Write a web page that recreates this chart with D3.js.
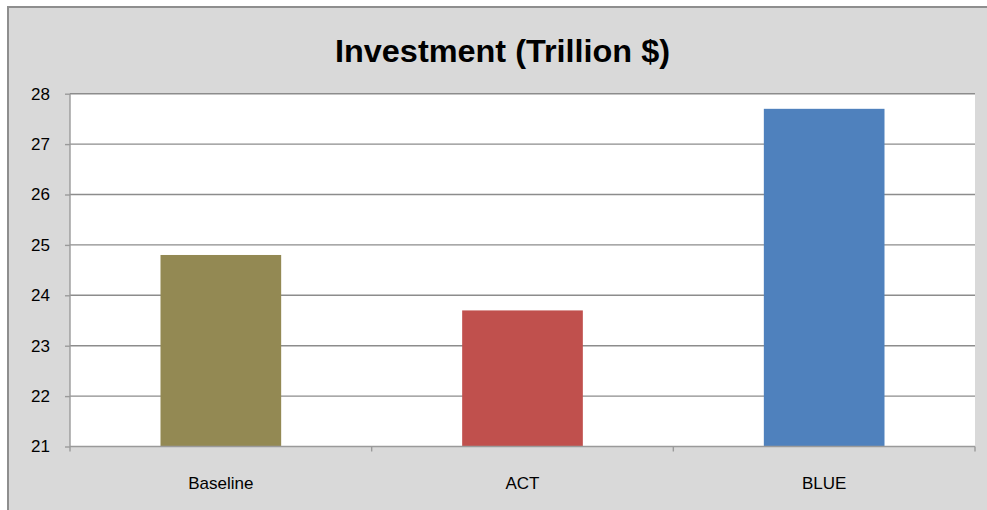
<!DOCTYPE html>
<html>
<head>
<meta charset="utf-8">
<script src="https://cdn.jsdelivr.net/npm/d3@7"></script>
<style>
  html, body { margin: 0; padding: 0; background: #ffffff; }
  svg { display: block; }
  text { font-family: "Liberation Sans", Arial, sans-serif; fill: #000; }
</style>
</head>
<body>
<svg id="chart" width="987" height="510"></svg>
<script>
// Chart data
const categories = ["Baseline", "ACT", "BLUE"];
const investment = [24.8, 23.7, 27.7];
const barColors = ["#938953", "#C0504D", "#4F81BD"];
const yTicks = [21, 22, 23, 24, 25, 26, 27, 28];
const titleText = "Investment (Trillion $)";

const W = 987, H = 510;
const plot = { left: 70, right: 975, top: 93.7, bottom: 446.5 };

const svg = d3.select("#chart");

// Chart frame
svg.append("rect")
  .attr("x", 8).attr("y", 7)
  .attr("width", W + 10).attr("height", H + 10)
  .attr("fill", "#D9D9D9")
  .attr("stroke", "#8e8e8e")
  .attr("stroke-width", 2);

// Title
svg.append("text")
  .attr("x", 502.5).attr("y", 62)
  .attr("text-anchor", "middle")
  .attr("font-size", 31)
  .attr("font-weight", "bold")
  .attr("textLength", 335)
  .attr("lengthAdjust", "spacingAndGlyphs")
  .text(titleText);

// Scales
const x = d3.scaleBand()
  .domain(categories)
  .range([plot.left, plot.right])
  .paddingInner(0.6)
  .paddingOuter(0.3);

const y = d3.scaleLinear()
  .domain([21, 28])
  .range([plot.bottom, plot.top]);

// Plot area background
svg.append("rect")
  .attr("x", plot.left).attr("y", plot.top)
  .attr("width", plot.right - plot.left)
  .attr("height", plot.bottom - plot.top)
  .attr("fill", "#ffffff");

// Horizontal gridlines
svg.append("g")
  .selectAll("line")
  .data(yTicks.filter(t => t > 21))
  .join("line")
  .attr("x1", plot.left).attr("x2", plot.right)
  .attr("y1", d => y(d)).attr("y2", d => y(d))
  .attr("stroke", "#8c8c8c")
  .attr("stroke-width", 1.4);

// Bars
svg.append("g")
  .selectAll("rect")
  .data(categories)
  .join("rect")
  .attr("x", d => x(d))
  .attr("width", x.bandwidth())
  .attr("y", (d, i) => y(investment[i]))
  .attr("height", (d, i) => y(21) - y(investment[i]))
  .attr("fill", (d, i) => barColors[i]);

// Y axis
const yAxis = svg.append("g")
  .attr("transform", `translate(${plot.left},0)`)
  .call(d3.axisLeft(y).tickValues(yTicks).tickSize(5).tickPadding(15).tickFormat(d3.format("d")));
yAxis.select(".domain").attr("stroke", "#9a9a9a").attr("stroke-width", 1.4).attr("d", `M0,${plot.top}V${plot.bottom}`);
yAxis.selectAll(".tick line").attr("stroke", "#9a9a9a").attr("stroke-width", 1.4);
yAxis.selectAll(".tick text")
  .attr("font-size", 17)
  .attr("font-family", "Liberation Sans, Arial, sans-serif")
  .attr("fill", "#000");

// X axis with boundary tick marks between categories
const xg = svg.append("g");
xg.append("line")
  .attr("x1", plot.left).attr("x2", plot.right)
  .attr("y1", plot.bottom).attr("y2", plot.bottom)
  .attr("stroke", "#9a9a9a").attr("stroke-width", 1.4);
const boundaries = categories.map(c => x(c) - x.step() * x.paddingOuter()).concat([plot.right]);
xg.selectAll("line.bt")
  .data(boundaries)
  .join("line")
  .attr("class", "bt")
  .attr("x1", d => d).attr("x2", d => d)
  .attr("y1", plot.bottom).attr("y2", plot.bottom + 5)
  .attr("stroke", "#9a9a9a").attr("stroke-width", 1.4);
xg.selectAll("text")
  .data(categories)
  .join("text")
  .attr("x", d => x(d) + x.bandwidth() / 2)
  .attr("y", 489)
  .attr("text-anchor", "middle")
  .attr("font-size", 17)
  .text(d => d);
</script>
</body>
</html>
